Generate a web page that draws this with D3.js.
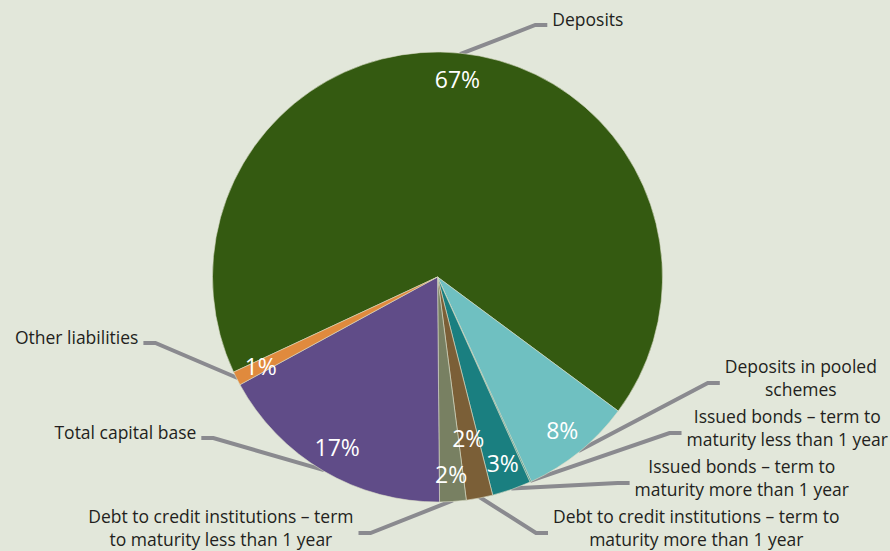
<!DOCTYPE html>
<html>
<head>
<meta charset="utf-8">
<script src="https://cdn.jsdelivr.net/npm/d3@7"></script>
<style>
  html, body { margin: 0; padding: 0; background: #e2e7da; }
  svg { display: block; }
</style>
</head>
<body>
<div id="pie-chart"></div>
<script>
(function(d3) {
  'use strict';
  //data (share of total, per cent)
  var categories = [
    'Deposits',
    'Deposits in pooled schemes',
    'Issued bonds – term to maturity less than 1 year',
    'Issued bonds – term to maturity more than 1 year',
    'Debt to credit institutions – term to maturity more than 1 year',
    'Debt to credit institutions – term to maturity less than 1 year',
    'Total capital base',
    'Other liabilities'
  ];
  var values = [67.1, 8.0, 0.1, 2.8, 1.9, 1.9, 17.2, 1.0];

  //label text, broken into lines as in the original
  var labelLines = [
    ['Deposits'],
    ['Deposits in pooled', 'schemes'],
    ['Issued bonds – term to', 'maturity less than 1 year'],
    ['Issued bonds – term to', 'maturity more than 1 year'],
    ['Debt to credit institutions – term to', 'maturity more than 1 year'],
    ['Debt to credit institutions – term', 'to maturity less than 1 year'],
    ['Total capital base'],
    ['Other liabilities']
  ];

  var colors = ['#345a11', '#6fc0c1', '#2a8f8a', '#1a7f80', '#7b5f37', '#788062', '#604c88', '#e08a3d'];

  //Sizes
  var width = 890;
  var height = 551;
  var cx = 437.5, cy = 277, radius = 225;
  var startAngle = -115 * Math.PI / 180;

  //Colors
  var backgroundColor = '#e2e7da';
  var leaderColor = '#8a8a8f';
  var textColor = '#231f20';

  //Label layout
  var gapLeft = 84;       // horizontal gap between pie edge and label, left side
  var gapRight = function(dy) { return 70 + 40 * Math.abs(dy) / radius; };
  var topY = 20;          // highest label centre
  var bottomY = 528;      // lowest label centre
  var stepRight = 50;
  var stepLeft = 95;
  var lineHeight = 23;
  var sideSplit = Math.PI * 0.96; // labels past this angle go to the left

  var svg = d3.select('#pie-chart').append('svg')
    .attr('width', width)
    .attr('height', height)
    .style('background', backgroundColor)
    .style('font-family', '"Open Sans", sans-serif');

  var pie = d3.pie()
    .sort(null)
    .startAngle(startAngle)
    .endAngle(startAngle + 2 * Math.PI);

  var arcs = pie(values);
  var total = d3.sum(values);

  var arc = d3.arc().innerRadius(0).outerRadius(radius);

  var lineG = svg.append('g').attr('transform', 'translate(' + cx + ',' + cy + ')');
  var g = svg.append('g').attr('transform', 'translate(' + cx + ',' + cy + ')');
  var labelG = svg.append('g').attr('transform', 'translate(' + cx + ',' + cy + ')');
  var pctG = svg.append('g').attr('transform', 'translate(' + cx + ',' + cy + ')');

  g.selectAll('path.slice')
    .data(arcs)
    .enter().append('path')
    .attr('class', 'slice')
    .attr('d', arc)
    .attr('fill', function(d, i) { return colors[i]; })
    .attr('stroke', '#d9dcc6')
    .attr('stroke-width', 0.6);

  //work out where each outside label goes
  arcs.forEach(function(d, i) {
    d.mid = (d.startAngle + d.endAngle) / 2;
    d.index = i;
    d.side = d.mid < sideSplit ? 'right' : 'left';
    d.upper = Math.cos(d.mid) > 0;
  });

  //upper labels sit just outside the pie, clamped to the top
  arcs.filter(function(d) { return d.upper; }).forEach(function(d) {
    d.ly = Math.max(topY - cy, -1.15 * radius * Math.cos(d.mid));
  });
  //lower labels stack upward from the bottom on each side
  var lowerRight = arcs.filter(function(d) { return !d.upper && d.side === 'right'; })
    .sort(function(a, b) { return b.mid - a.mid; });
  lowerRight.forEach(function(d, i) { d.ly = bottomY - cy - i * stepRight; });
  var lowerLeft = arcs.filter(function(d) { return !d.upper && d.side === 'left'; })
    .sort(function(a, b) { return a.mid - b.mid; });
  lowerLeft.forEach(function(d, i) { d.ly = bottomY - cy - i * stepLeft; });

  arcs.forEach(function(d) {
    var lines = labelLines[d.index];
    var text = labelG.append('text')
      .attr('fill', textColor)
      .style('font-size', '17.5px')
      .attr('text-anchor', 'middle');
    lines.forEach(function(l, k) {
      text.append('tspan')
        .attr('x', 0)
        .attr('y', d.ly + (k - (lines.length - 1) / 2) * lineHeight)
        .attr('dy', '0.36em')
        .text(l);
    });
    var w = text.node().getBBox().width;
    var elbowY = d.ly + 5;
    var off = Math.abs(elbowY) < radius ? Math.sqrt(radius * radius - elbowY * elbowY) : 0;
    var edge, textX, hx1, hx2;
    if (d.side === 'right') {
      edge = off + gapRight(elbowY);
      if (cx + edge + w > width - 2) edge = width - 2 - cx - w;
      textX = edge + w / 2;
      hx1 = edge - 5; hx2 = edge - 17;
    } else {
      edge = -off - gapLeft;
      if (cx + edge - w < 2) edge = 2 - cx + w;
      textX = edge - w / 2;
      hx1 = edge + 5; hx2 = edge + 17;
    }
    text.selectAll('tspan').attr('x', textX);

    var ax = (radius - 1) * Math.sin(d.mid);
    var ay = -(radius - 1) * Math.cos(d.mid);
    lineG.append('path')
      .attr('d', d3.line()([[ax, ay], [hx2, elbowY], [hx1, elbowY]]))
      .attr('fill', 'none')
      .attr('stroke', leaderColor)
      .attr('stroke-width', 4);
  });

  //per cent labels inside the slices, pulled inward when they collide
  var placed = [];
  arcs.forEach(function(d) {
    var pct = Math.round(d.value / total * 100);
    if (pct < 1) return;
    var t = pctG.append('text')
      .attr('fill', '#ffffff')
      .attr('text-anchor', 'middle')
      .attr('dy', '0.36em')
      .style('font-size', '23px')
      .text(pct + '%');
    var w = t.node().getBBox().width, h = 20;
    var r = 0.88 * radius, x, y, box;
    for (var k = 0; k < 10; k++) {
      x = r * Math.sin(d.mid);
      y = -r * Math.cos(d.mid);
      box = [x - w / 2 - 2, y - h / 2 - 2, x + w / 2 + 2, y + h / 2 + 2];
      var hit = placed.some(function(b) {
        return box[0] < b[2] && box[2] > b[0] && box[1] < b[3] && box[3] > b[1];
      });
      if (!hit) break;
      r -= 0.05 * radius;
    }
    placed.push(box);
    t.attr('x', x).attr('y', y);
  });
})(window.d3);
</script>
</body>
</html>
